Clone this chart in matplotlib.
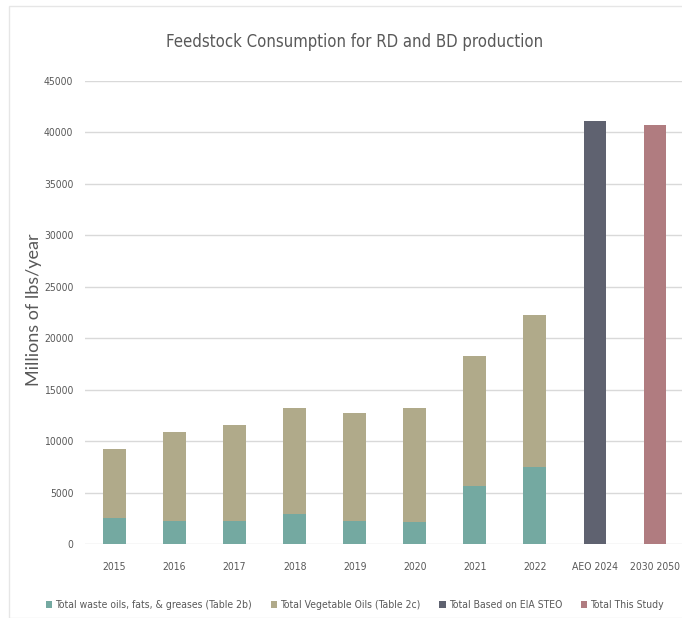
import matplotlib.pyplot as plt
import matplotlib.font_manager as fm
from matplotlib.patches import Rectangle

# feedstock use, millions of lbs/year
categories = ["2015", "2016", "2017", "2018", "2019", "2020", "2021", "2022", "AEO 2024", "2030 2050"]
waste_fog = [2500, 2270, 2270, 2880, 2270, 2170, 5640, 7520, 0, 0]
veg_oils = [6700, 8650, 9300, 10310, 10430, 11020, 12660, 14740, 0, 0]
eia_steo = [0, 0, 0, 0, 0, 0, 0, 0, 41100, 0]
this_study = [0, 0, 0, 0, 0, 0, 0, 0, 0, 40750]
yticks = list(range(0, 45001, 5000))

gray = "#595959"


def narrow(size):
    return fm.FontProperties(family="DejaVu Sans", stretch="condensed", size=size)


fig = plt.figure(figsize=(6.82, 6.18), dpi=100)
ax = fig.add_axes([84.5 / 682, 1 - 544 / 618, (682 - 84.5) / 682, (544 - 81) / 618])

x = list(range(len(categories)))
w = 0.38
ax.bar(x, waste_fog, w, color="#74a9a1", label="Total waste oils, fats, & greases (Table 2b)", zorder=3)
ax.bar(x, veg_oils, w, bottom=waste_fog, color="#b0aa8a", label="Total Vegetable Oils (Table 2c)", zorder=3)
ax.bar(x, eia_steo, w, color="#5f6270", label="Total Based on EIA STEO", zorder=3)
ax.bar(x, this_study, w, color="#b07c80", label="Total This Study", zorder=3)

ax.set_xlim(-0.5, 9.45)
ax.set_ylim(0, 45000)
ax.set_yticks(yticks)
ax.set_xticks(x)
ax.set_xticklabels(categories, fontproperties=narrow(7.5), color=gray)
ax.set_yticklabels([str(v) for v in yticks], fontproperties=narrow(7.5), color=gray)
ax.grid(axis="y", color="#d9d9d9", linewidth=1, zorder=0)
for s in ax.spines.values():
    s.set_visible(False)
ax.tick_params(axis="y", length=0, pad=8)
ax.tick_params(axis="x", length=0, pad=13)

fig.text(34 / 682, 1 - 310 / 618, "Millions of lbs/year", rotation=90, ha="center", va="center",
         family="Lato", fontsize=13, color=gray)
fig.text(355 / 682, 1 - 42 / 618, "Feedstock Consumption for RD and BD production", ha="center",
         va="center", fontproperties=narrow(12), color=gray)

fig.legend(loc="center", bbox_to_anchor=(355 / 682, 1 - 605 / 618), ncol=4, frameon=False,
           handlelength=0.6, handleheight=0.6, handletextpad=0.3, columnspacing=1.8,
           prop=narrow(7.5), labelcolor=gray)

# light frame around the chart area
fig.patches.append(Rectangle((9 / 682, 0), 1, 1 - 6 / 618, transform=fig.transFigure,
                             fill=False, edgecolor="#e6e6e6", linewidth=1))

fig.savefig("out.png", dpi=100)
